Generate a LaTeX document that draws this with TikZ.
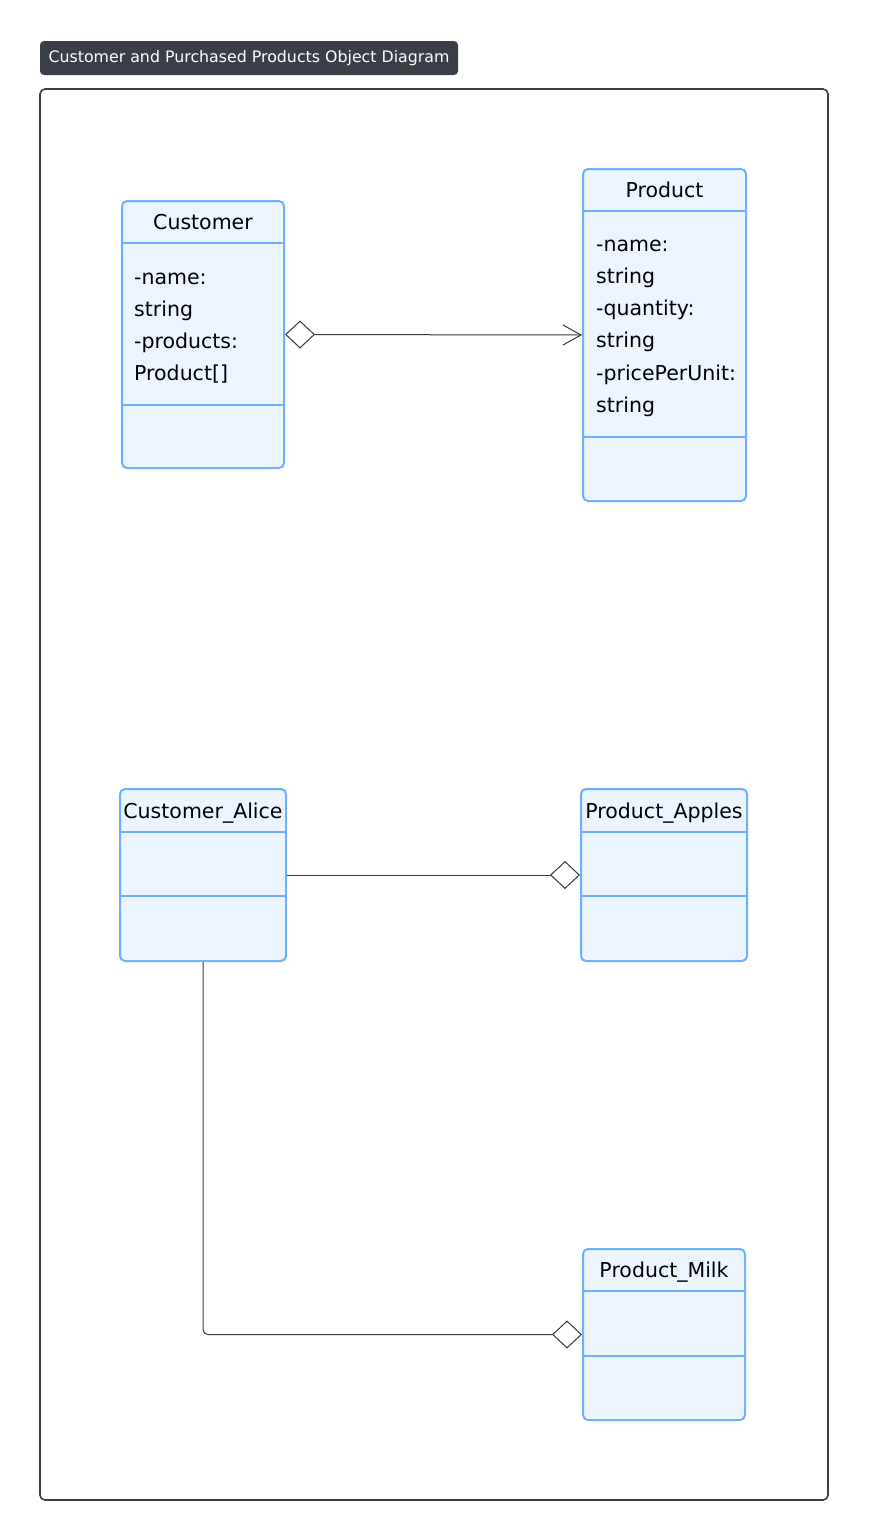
\documentclass[tikz,border=0pt]{standalone}
\usepackage{fontspec}
\setmainfont{DejaVu Sans}
\usetikzlibrary{arrows.meta}
\definecolor{boxfill}{RGB}{236,244,255}
\definecolor{boxline}{RGB}{108,176,255}
\definecolor{darkc}{RGB}{58,63,71}
\definecolor{linec}{RGB}{52,57,66}
\tikzset{
  cls/.style={draw=boxline, fill=boxfill, line width=2pt, rounded corners=5pt, inner sep=0pt},
  divider/.style={draw=boxline, line width=2pt},
  hdr/.style={anchor=base, inner sep=0pt, font=\fontsize{20.5}{24}\selectfont},
  attr/.style={anchor=base west, inner sep=0pt, font=\fontsize{20.5}{24}\selectfont},
  conn/.style={draw=linec, line width=1pt},
}
\begin{document}
\begin{tikzpicture}[x=1pt,y=-1pt]
\useasboundingbox (0,0) rectangle (868,1540);
% title
\node[fill=darkc, rounded corners=4pt, minimum width=418pt, minimum height=34pt, inner sep=0pt,
      text=white, font=\fontsize{15.8}{19}\selectfont] (title) at (249,58) {Customer and Purchased Products Object Diagram};
% frame
\draw[draw=darkc, line width=1.6pt, rounded corners=5pt] (40,89) rectangle (828,1500);

% Customer
\node[cls, minimum width=162pt, minimum height=267pt] (customer) at (203,334.5) {};
\draw[divider] (122,243) -- (284,243);
\draw[divider] (122,405) -- (284,405);
\node[hdr] (customerT) at (203,229.5) {Customer};
\node[attr] (c1) at (134,284.5) {-name:};
\node[attr] (c2) at (134,316.5) {string};
\node[attr] (c3) at (134,348.5) {-products:};
\node[attr] (c4) at (134,380.5) {Product[]};

% Product
\node[cls, minimum width=163pt, minimum height=332pt] (product) at (664.5,335) {};
\draw[divider] (583,211) -- (746,211);
\draw[divider] (583,437) -- (746,437);
\node[hdr] (productT) at (664.5,197.5) {Product};
\node[attr] (p1) at (596,251.5) {-name:};
\node[attr] (p2) at (596,283.5) {string};
\node[attr] (p3) at (596,315.5) {-quantity:};
\node[attr] (p4) at (596,347.5) {string};
\node[attr] (p5) at (596,380.5) {-pricePerUnit:};
\node[attr] (p6) at (596,412.5) {string};

% Customer_Alice
\node[cls, minimum width=166pt, minimum height=172pt] (alice) at (203,875) {};
\draw[divider] (120,832) -- (286,832);
\draw[divider] (120,896) -- (286,896);
\node[hdr] (aliceT) at (203,818.5) {Customer\_Alice};

% Product_Apples
\node[cls, minimum width=166pt, minimum height=172pt] (apples) at (664,875) {};
\draw[divider] (581,832) -- (747,832);
\draw[divider] (581,896) -- (747,896);
\node[hdr] (applesT) at (664,818.5) {Product\_Apples};

% Product_Milk
\node[cls, minimum width=162pt, minimum height=171pt] (milk) at (664,1334.5) {};
\draw[divider] (583,1291) -- (745,1291);
\draw[divider] (583,1356) -- (745,1356);
\node[hdr] (milkT) at (664,1277.5) {Product\_Milk};

% connectors
\draw[conn, {Diamond[open,length=30pt,width=28pt,fill=white,line width=1pt]}-{Straight Barb[length=18pt,width=20pt,line width=1pt]}]
  (customer.east) -- (product.west);
\draw[conn, -{Diamond[open,length=30pt,width=28pt,fill=white,line width=1pt]}]
  (alice.east) -- (apples.west);
\draw[conn, rounded corners=5pt, -{Diamond[open,length=30pt,width=28pt,fill=white,line width=1pt]}]
  (alice.south) |- (milk.west);
\end{tikzpicture}
\end{document}
